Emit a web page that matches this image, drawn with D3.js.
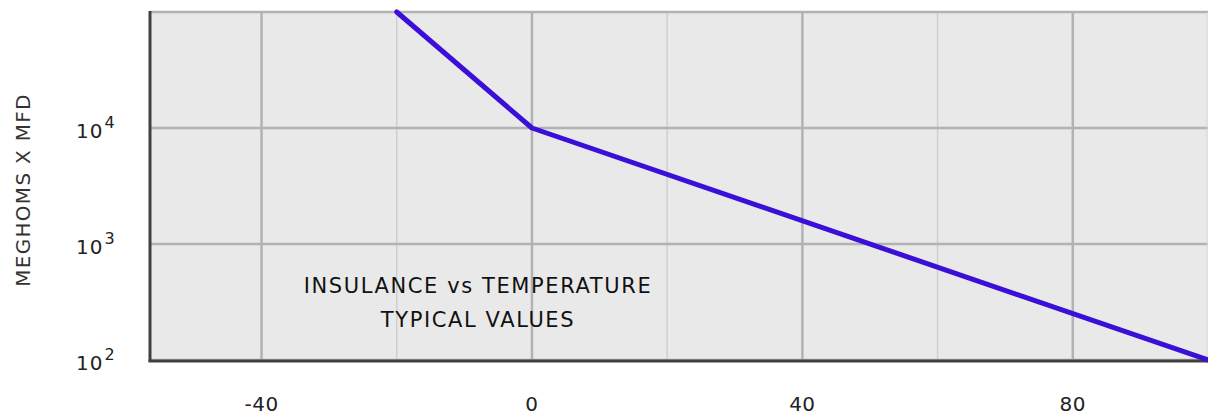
<!DOCTYPE html>
<html>
<head>
<meta charset="utf-8">
<script src="https://cdn.jsdelivr.net/npm/d3@7"></script>
<style>
  body { margin: 0; background: #fff; }
  text { font-family: "DejaVu Sans", Verdana, sans-serif; }
</style>
</head>
<body>
<div id="container"></div>
<script>
let w = 1208;
let h = 420;

// data
let temps = [-20, 0, 100];
let insulance = [100000, 10000, 100];
let majorTicks = [-40, 0, 40, 80];
let minorTicks = [-20, 20, 60];
let decadeTicks = [100, 1000, 10000];
let decadeExp = ["2", "3", "4"];
let noteLines = ["INSULANCE vs TEMPERATURE", "TYPICAL VALUES"];

let viz = d3.select("#container")
  .append("svg")
    .attr("width", w)
    .attr("height", h)
    .style("background-color", "white");

let plotLeft = 150, plotRight = 1208, plotTop = 12, plotBottom = 360;

let xScale = d3.scaleLinear().domain([-56.5, 100]).range([plotLeft, plotRight]);
let yScale = d3.scaleLog().domain([100, 100000]).range([plotBottom, plotTop]);

// plot background
viz.append("rect")
  .attr("x", plotLeft).attr("y", plotTop)
  .attr("width", plotRight - plotLeft).attr("height", plotBottom - plotTop)
  .attr("fill", "#e9e9e9");

// minor vertical grid
viz.selectAll(".minor").data(minorTicks).enter()
  .append("line").attr("class", "minor")
  .attr("x1", d => xScale(d)).attr("x2", d => xScale(d))
  .attr("y1", plotTop).attr("y2", plotBottom)
  .attr("stroke", "#cfcfcf").attr("stroke-width", 1.5);

// major vertical grid
viz.selectAll(".major").data(majorTicks).enter()
  .append("line").attr("class", "major")
  .attr("x1", d => xScale(d)).attr("x2", d => xScale(d))
  .attr("y1", plotTop).attr("y2", plotBottom)
  .attr("stroke", "#b2b2b2").attr("stroke-width", 2.5);

// horizontal grid at each decade + top
viz.selectAll(".hgrid").data(decadeTicks.concat([100000])).enter()
  .append("line").attr("class", "hgrid")
  .attr("x1", plotLeft).attr("x2", plotRight)
  .attr("y1", d => yScale(d)).attr("y2", d => yScale(d))
  .attr("stroke", "#b2b2b2").attr("stroke-width", 2.5);

// right edge
viz.append("line")
  .attr("x1", plotRight - 1).attr("x2", plotRight - 1)
  .attr("y1", plotTop).attr("y2", plotBottom)
  .attr("stroke", "#d8d8d8").attr("stroke-width", 1);

// axis lines
viz.append("line")
  .attr("x1", plotLeft).attr("x2", plotLeft)
  .attr("y1", plotTop - 1).attr("y2", plotBottom + 1.5)
  .attr("stroke", "#404040").attr("stroke-width", 3);
viz.append("line")
  .attr("x1", plotLeft - 1.5).attr("x2", plotRight)
  .attr("y1", plotBottom + 1).attr("y2", plotBottom + 1)
  .attr("stroke", "#404040").attr("stroke-width", 3);

// the curve
let pts = temps.map((t, i) => [t, insulance[i]]);
let line = d3.line().x(d => xScale(d[0])).y(d => yScale(d[1]));
viz.append("path")
  .datum(pts)
  .attr("d", line)
  .attr("fill", "none")
  .attr("stroke", "#3c0fd8")
  .attr("stroke-width", 5)
  .attr("stroke-linejoin", "round")
  .attr("stroke-linecap", "round");

// x tick labels
viz.selectAll(".xlab").data(majorTicks).enter()
  .append("text").attr("class", "xlab")
  .attr("x", d => xScale(d))
  .attr("y", 411)
  .attr("text-anchor", "middle")
  .attr("font-size", 20)
  .attr("letter-spacing", 0.5)
  .attr("fill", "#222")
  .text(d => d);

// y tick labels: 10 with superscript
let ylabs = viz.selectAll(".ylab").data(decadeTicks).enter()
  .append("text").attr("class", "ylab")
  .attr("x", 76)
  .attr("y", d => yScale(d) + 10)
  .attr("font-size", 20)
  .attr("letter-spacing", 1)
  .attr("fill", "#222");
ylabs.append("tspan").text("10");
ylabs.append("tspan")
  .attr("dx", 1)
  .attr("dy", -10)
  .attr("font-size", 16)
  .text((d, i) => decadeExp[i]);

// y axis title
viz.append("text")
  .attr("transform", "translate(30,190) rotate(-90)")
  .attr("text-anchor", "middle")
  .attr("font-size", 20)
  .attr("letter-spacing", 1.3)
  .attr("fill", "#333")
  .text("MEGHOMS X MFD");

// note inside the plot
viz.selectAll(".note").data(noteLines).enter()
  .append("text").attr("class", "note")
  .attr("x", 478)
  .attr("y", (d, i) => 293 + i * 34)
  .attr("text-anchor", "middle")
  .attr("font-size", 21)
  .attr("letter-spacing", 1.6)
  .attr("fill", "#111")
  .text(d => d);
</script>
</body>
</html>
